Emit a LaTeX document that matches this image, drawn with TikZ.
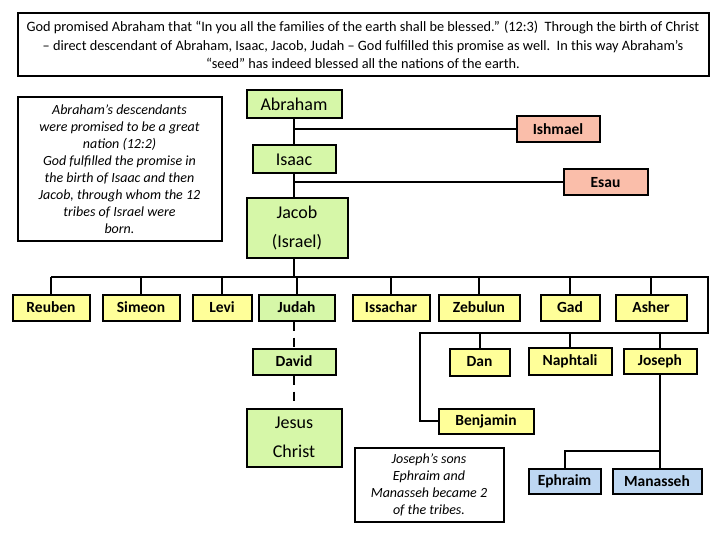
\documentclass[tikz,border=0pt]{standalone}
\usepackage{fontspec}
\setmainfont{Carlito}
\usepackage{xcolor}
\usetikzlibrary{positioning}
\definecolor{famgreen}{RGB}{214,247,168}
\definecolor{tribeyellow}{RGB}{255,255,153}
\definecolor{othersalmon}{RGB}{250,190,170}
\definecolor{sonblue}{RGB}{190,215,242}

\begin{document}
\begin{tikzpicture}[
  x=1pt, y=-1pt,
  person/.style={draw=black, line width=2pt, inner sep=0pt, minimum height=26pt,
                 font=\fontsize{15.5}{18}\selectfont\bfseries},
  patriarch/.style={person, fill=famgreen, align=center, font=\fontsize{18}{29}\selectfont},
  heir/.style={person, fill=famgreen},
  tribe/.style={person, fill=tribeyellow},
  other/.style={person, fill=othersalmon},
  son/.style={person, fill=sonblue},
  note/.style={draw=black, line width=2pt, fill=white, align=center, inner sep=0pt},
  link/.style={draw=black, line width=2pt},
  lineage/.style={link, dash pattern=on 9pt off 7pt}
]
\fill[white] (0,0) rectangle (720,540);
\useasboundingbox (0,0) rectangle (720,540);

\node[note, minimum width=691, minimum height=63, font=\fontsize{14.3}{18.5}\selectfont] (promise) at (363,45)
  {God promised Abraham that “In you all the families of the earth shall be blessed.” (12:3)\ \ Through the birth of Christ\\
   – direct descendant of Abraham, Isaac, Jacob, Judah – God fulfilled this promise as well.\ \ In this way Abraham’s\\
   “seed” has indeed blessed all the nations of the earth.};
\node[note, minimum width=204, minimum height=143, font=\fontsize{14}{17}\selectfont\itshape] (promisenote) at (119.5,169)
  {Abraham’s descendants\\were promised to be a great\\nation (12:2)\\God fulfilled the promise in\\the birth of Isaac and then\\Jacob, through whom the 12\\tribes of Israel were\\born.};

\node[patriarch, minimum width=95, minimum height=28] (abraham) at (294,104.5) {Abraham};
\node[patriarch, minimum width=83, minimum height=28] (isaac) at (294,159.5) {Isaac};
\node[patriarch, minimum width=101, minimum height=59] (jacob) at (297,228) {Jacob\\(Israel)};
\node[other, minimum width=83] (ishmael) at (558,129) {Ishmael};
\node[other, minimum width=84] (esau) at (605.5,182.5) {Esau};

\node[tribe, minimum width=77] (reuben) at (51,307.5) {Reuben};
\node[tribe, minimum width=77] (simeon) at (141,307.5) {Simeon};
\node[tribe, minimum width=59] (levi) at (222,307.5) {Levi};
\node[heir, minimum width=76] (judah) at (296.5,307.5) {Judah};
\node[tribe, minimum width=77] (issachar) at (391,307.5) {Issachar};
\node[tribe, minimum width=81] (zebulun) at (479,307.5) {Zebulun};
\node[tribe, minimum width=59] (gad) at (570,307.5) {Gad};
\node[tribe, minimum width=71] (asher) at (651,307.5) {Asher};

\node[tribe, minimum width=60, minimum height=27] (dan) at (479.5,362) {Dan};
\node[tribe, minimum width=83, minimum height=27] (naphtali) at (570,361.5) {Naphtali};
\node[tribe, minimum width=73, minimum height=25] (joseph) at (660,361) {Joseph};
\node[tribe, minimum width=95, minimum height=25] (benjamin) at (486,421) {Benjamin};

\node[heir, minimum width=83] (david) at (294,361.5) {David};
\node[patriarch, minimum width=95, minimum height=58] (jesus) at (294,437.5) {Jesus\\Christ};

\node[note, minimum width=149, minimum height=74, font=\fontsize{14}{17}\selectfont\itshape] (josephnote) at (429,484.5)
  {Joseph’s sons\\Ephraim and\\Manasseh became 2\\of the tribes.};
\node[son, minimum width=72, minimum height=25] (ephraim) at (564.5,481) {Ephraim};
\node[son, minimum width=89, minimum height=25] (manasseh) at (657,481) {Manasseh};

\coordinate (bus) at (0,277);
\coordinate (busend) at (708,277);
\coordinate (bus2) at (0,333);
\coordinate (bus2end) at (420,333);
\coordinate (split) at (660,451);

\draw[link] (abraham) -- (isaac);
\draw[link] (isaac) -- (isaac |- jacob.north);
\draw[link] (abraham |- ishmael.west) -- (ishmael.west);
\draw[link] (isaac |- esau.west) -- (esau.west);
\draw[link] (isaac |- jacob.south) -- (isaac |- bus);
\draw[link] (reuben |- bus) -- (busend) |- (bus2end) |- (benjamin.west);
\foreach \t in {reuben,simeon,levi,judah,issachar,zebulun,gad,asher}
  \draw[link] (\t) -- (\t |- bus);
\foreach \t in {dan,naphtali,joseph}
  \draw[link] (\t) -- (\t |- bus2);
\draw[link] (joseph) -- (joseph |- manasseh.north);
\draw[link] (split) -| (ephraim);
\draw[lineage] (judah.south -| david) -- (david);
\draw[lineage] (david) -- (jesus);
\end{tikzpicture}
\end{document}
